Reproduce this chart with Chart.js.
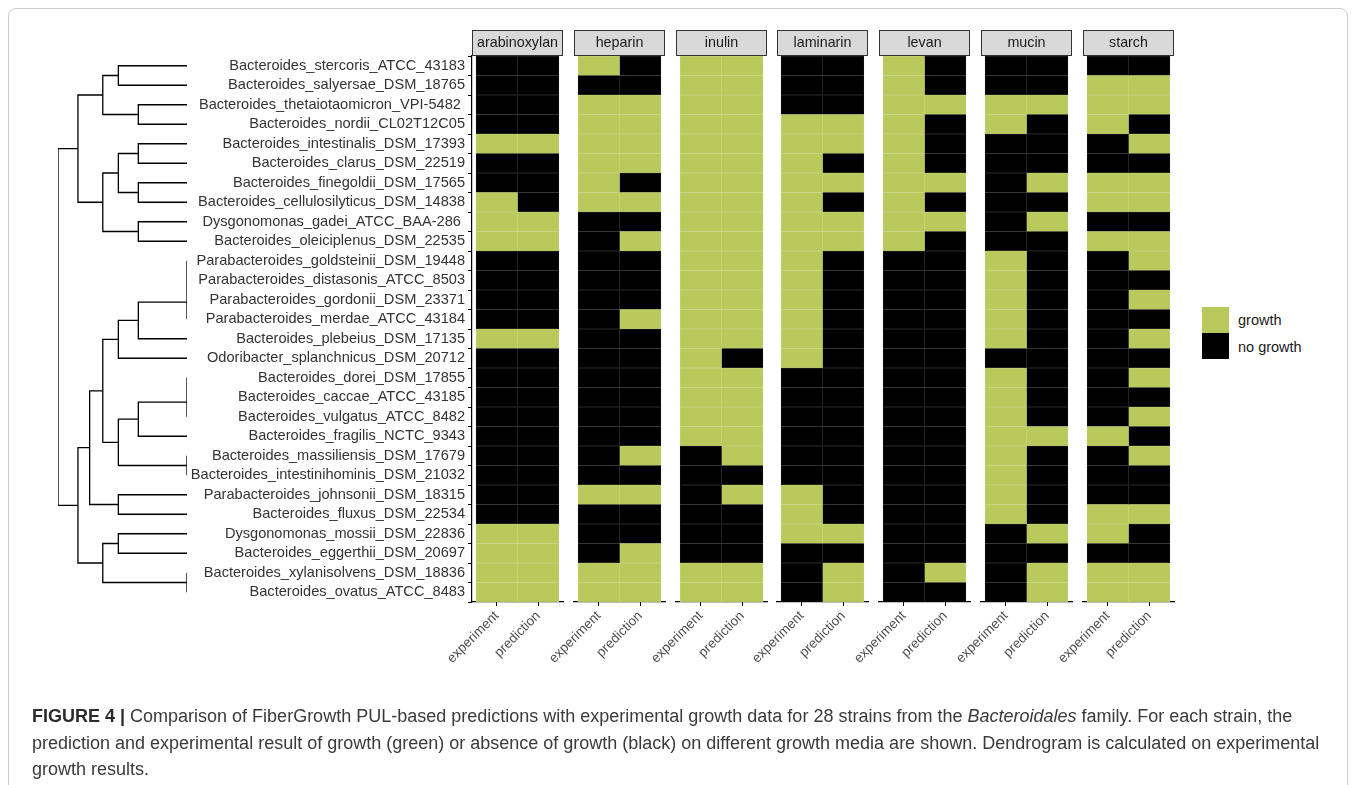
<!DOCTYPE html>
<html>
<head>
<meta charset="utf-8">
<script src="https://cdn.jsdelivr.net/npm/chart.js@4.4.1/dist/chart.umd.min.js"></script>
<style>
  body { margin: 0; background: #fff; font-family: "Liberation Sans", Arial, sans-serif; }
  #fig { position: relative; width: 1357px; height: 785px; overflow: hidden; }
  .frame { position: absolute; left: 8px; top: 8px; width: 1340px; height: 800px; border: 1px solid #cdcdcd; border-radius: 8px; box-sizing: border-box; }
  canvas { position: absolute; }
  .key { position: absolute; left: 1202px; width: 27px; height: 26px; }
  .key-label { position: absolute; left: 1238px; font-size: 14.5px; color: #1a1a1a; line-height: 16px; }
  .caption { position: absolute; left: 32px; top: 703px; font-size: 18px; line-height: 26.5px; color: #3a3a3a; white-space: nowrap; }
  .caption b { color: #2a2a2a; }
</style>
</head>
<body>
<div id="fig">
  <div class="frame"></div>
  <div id="plots"></div>
  <div class="key" style="top:307px;background:#b9c95b"></div>
  <div class="key" style="top:333px;background:#000"></div>
  <div class="key-label" style="top:312px" id="lg0"></div>
  <div class="key-label" style="top:339px" id="lg1"></div>
  <div class="caption">
    <div><b>FIGURE 4 |</b> Comparison of FiberGrowth PUL-based predictions with experimental growth data for 28 strains from the <i>Bacteroidales</i> family. For each strain, the</div>
    <div>prediction and experimental result of growth (green) or absence of growth (black) on different growth media are shown. Dendrogram is calculated on experimental</div>
    <div>growth results.</div>
  </div>
</div>

<script>
// ── strains, in dendrogram order (top → bottom) ──
const strains = [
  'Bacteroides_stercoris_ATCC_43183', 'Bacteroides_salyersae_DSM_18765', 'Bacteroides_thetaiotaomicron_VPI-5482 ',
  'Bacteroides_nordii_CL02T12C05', 'Bacteroides_intestinalis_DSM_17393', 'Bacteroides_clarus_DSM_22519',
  'Bacteroides_finegoldii_DSM_17565', 'Bacteroides_cellulosilyticus_DSM_14838', 'Dysgonomonas_gadei_ATCC_BAA-286 ',
  'Bacteroides_oleiciplenus_DSM_22535', 'Parabacteroides_goldsteinii_DSM_19448', 'Parabacteroides_distasonis_ATCC_8503',
  'Parabacteroides_gordonii_DSM_23371', 'Parabacteroides_merdae_ATCC_43184', 'Bacteroides_plebeius_DSM_17135',
  'Odoribacter_splanchnicus_DSM_20712', 'Bacteroides_dorei_DSM_17855', 'Bacteroides_caccae_ATCC_43185',
  'Bacteroides_vulgatus_ATCC_8482', 'Bacteroides_fragilis_NCTC_9343', 'Bacteroides_massiliensis_DSM_17679',
  'Bacteroides_intestinihominis_DSM_21032', 'Parabacteroides_johnsonii_DSM_18315', 'Bacteroides_fluxus_DSM_22534',
  'Dysgonomonas_mossii_DSM_22836', 'Bacteroides_eggerthii_DSM_20697', 'Bacteroides_xylanisolvens_DSM_18836',
  'Bacteroides_ovatus_ATCC_8483'
];
const media = ['arabinoxylan', 'heparin', 'inulin', 'laminarin', 'levan', 'mucin', 'starch'];
const methods = ['experiment', 'prediction'];
const legendLabels = ['growth', 'no growth'];

// 1 = growth, 0 = no growth (same row order as strains)
const arabinoxylanExp  = [0,0,0,0,1,0,0,1,1,1, 0,0,0,0,1,0,0,0,0,0, 0,0,0,0,1,1,1,1];
const arabinoxylanPred = [0,0,0,0,1,0,0,0,1,1, 0,0,0,0,1,0,0,0,0,0, 0,0,0,0,1,1,1,1];
const heparinExp       = [1,0,1,1,1,1,1,1,0,0, 0,0,0,0,0,0,0,0,0,0, 0,0,1,0,0,0,1,1];
const heparinPred      = [0,0,1,1,1,1,0,1,0,1, 0,0,0,1,0,0,0,0,0,0, 1,0,1,0,0,1,1,1];
const inulinExp        = [1,1,1,1,1,1,1,1,1,1, 1,1,1,1,1,1,1,1,1,1, 0,0,0,0,0,0,1,1];
const inulinPred       = [1,1,1,1,1,1,1,1,1,1, 1,1,1,1,1,0,1,1,1,1, 1,0,1,0,0,0,1,1];
const laminarinExp     = [0,0,0,1,1,1,1,1,1,1, 1,1,1,1,1,1,0,0,0,0, 0,0,1,1,1,0,0,0];
const laminarinPred    = [0,0,0,1,1,0,1,0,1,1, 0,0,0,0,0,0,0,0,0,0, 0,0,0,0,1,0,1,1];
const levanExp         = [1,1,1,1,1,1,1,1,1,1, 0,0,0,0,0,0,0,0,0,0, 0,0,0,0,0,0,0,0];
const levanPred        = [0,0,1,0,0,0,1,0,1,0, 0,0,0,0,0,0,0,0,0,0, 0,0,0,0,0,0,1,0];
const mucinExp         = [0,0,1,1,0,0,0,0,0,0, 1,1,1,1,1,0,1,1,1,1, 1,1,1,1,0,0,0,0];
const mucinPred        = [0,0,1,0,0,0,1,0,1,0, 0,0,0,0,0,0,0,0,0,1, 0,0,0,0,1,0,1,1];
const starchExp        = [0,1,1,1,0,0,1,1,0,1, 0,0,0,0,0,0,0,0,0,1, 0,0,0,1,1,0,1,1];
const starchPred       = [0,1,1,0,1,0,1,1,0,1, 1,0,1,0,1,0,1,0,1,0, 1,0,0,1,0,0,1,1];

// hclust-style merges: negative = leaf (1-based row), positive = earlier merge
const merges = [[-11,-12],[1,-13],[2,-14],[-17,-18],[4,-19],[-21,-22],[-27,-28],
  [-3,-4],[-5,-6],[-7,-8],[-9,-10],[3,-15],[5,-20],
  [-1,-2],[9,10],[12,-16],[13,6],[-23,-24],[-25,-26],
  [14,8],[15,11],[16,17],[19,7],[22,18],[20,21],[24,23],[25,26]];
const mergeHeights = [0,0,0,0,0,0,0, 1,1,1,1,1,1, 1.41,1.41,1.41,1.41,1.41,1.41, 1.73,1.73,1.73,1.73, 2, 2.24,2.24, 2.65];

const growth = {
  arabinoxylan: [arabinoxylanExp, arabinoxylanPred],
  heparin: [heparinExp, heparinPred],
  inulin: [inulinExp, inulinPred],
  laminarin: [laminarinExp, laminarinPred],
  levan: [levanExp, levanPred],
  mucin: [mucinExp, mucinPred],
  starch: [starchExp, starchPred]
};

const GREEN = '#b9c95b', BLACK = '#000000';
const FONT = '"Liberation Sans", Arial, sans-serif';

document.getElementById('lg0').textContent = legendLabels[0];
document.getElementById('lg1').textContent = legendLabels[1];

// panel geometry (page pixels)
const PANEL_TOP = 56, PANEL_H = 546, PANEL_W = 91, FIRST_LEFT = 472, PITCH = 101.8;
const CANVAS_TOP = 24, CANVAS_H = 680;
const plots = document.getElementById('plots');

function addCanvas(left, top, w, h) {
  const c = document.createElement('canvas');
  c.style.left = left + 'px'; c.style.top = top + 'px';
  c.style.width = w + 'px'; c.style.height = h + 'px';
  c.width = w; c.height = h;
  plots.appendChild(c);
  return c;
}

const stripPlugin = {
  id: 'strip',
  afterDraw(chart, args, opts) {
    const { ctx, chartArea: { left, right, top } } = chart;
    ctx.save();
    ctx.fillStyle = '#d9d9d9';
    ctx.fillRect(left, top - 26, right - left, 25);
    ctx.strokeStyle = '#333';
    ctx.lineWidth = 1;
    ctx.strokeRect(left + 0.5, top - 25.5, right - left - 1, 25);
    ctx.fillStyle = '#1a1a1a';
    ctx.font = '14.3px ' + FONT;
    ctx.textAlign = 'center';
    ctx.textBaseline = 'middle';
    ctx.fillText(opts.text, (left + right) / 2, top - 13);
    ctx.restore();
  }
};

// ── heatmap panels ──
media.forEach((m, i) => {
  const first = i === 0;
  const panelLeft = FIRST_LEFT + i * PITCH;
  const padLeft = first ? 0 : 60;
  const yAxisW = first ? 282 : 0;
  const cLeft = panelLeft - padLeft - yAxisW;
  const cW = padLeft + yAxisW + PANEL_W + 12;
  const canvas = addCanvas(cLeft, CANVAS_TOP, cW, CANVAS_H);
  const xAxisH = CANVAS_H - (PANEL_TOP - CANVAS_TOP) - PANEL_H;

  new Chart(canvas, {
    type: 'bar',
    data: {
      labels: strains,
      datasets: methods.map((meth, j) => ({
        label: meth,
        data: growth[m][j].map(() => [j, j + 1]),
        backgroundColor: growth[m][j].map(v => v ? GREEN : BLACK),
        borderColor: growth[m][j].map(v => v ? '#c6d47a' : '#232323'),
        borderWidth: 0.5,
        borderSkipped: false,
        grouped: false,
        barPercentage: 1,
        categoryPercentage: 1
      }))
    },
    options: {
      indexAxis: 'y',
      responsive: false,
      animation: false,
      layout: { padding: { left: padLeft, right: 12, top: PANEL_TOP - CANVAS_TOP, bottom: 0 } },
      plugins: { legend: { display: false }, tooltip: { enabled: false }, strip: { text: m } },
      scales: {
        x: {
          type: 'linear', min: -0.1, max: 2.1,
          afterBuildTicks: s => { s.ticks = [{ value: 0.5 }, { value: 1.5 }]; },
          afterFit: s => { s.height = xAxisH; s.paddingLeft = 0; s.paddingRight = 0; },
          border: { display: true, color: '#000', width: 1.2 },
          grid: { drawOnChartArea: false, drawTicks: true, tickLength: 4, color: '#000', lineWidth: 1 },
          ticks: {
            autoSkip: false, minRotation: 45, maxRotation: 45, padding: 2,
            color: '#4d4d4d', font: { family: FONT, size: 13.5 },
            callback: (v, idx) => methods[idx]
          }
        },
        y: {
          type: 'category', offset: true, display: first,
          afterFit: s => { s.width = yAxisW; s.paddingTop = 0; s.paddingBottom = 0; },
          border: { display: true, color: '#000', width: 1.2 },
          grid: { drawOnChartArea: false, drawTicks: true, tickLength: 4, color: '#000', lineWidth: 1 },
          ticks: { autoSkip: false, padding: 3, color: '#333', font: { family: FONT, size: 14.6 } }
        }
      }
    },
    plugins: [stripPlugin]
  });
});

// ── dendrogram ──
const nodes = [];
const segs = [];
const nodeOf = ref => ref < 0 ? { y: -ref - 1, h: 0 } : nodes[ref - 1];
merges.forEach(([a, b], k) => {
  const A = nodeOf(a), B = nodeOf(b), h = mergeHeights[k];
  segs.push({ x: A.h, y: A.y }, { x: h, y: A.y }, { x: h, y: B.y }, { x: B.h, y: B.y }, { x: NaN, y: NaN });
  nodes.push({ y: (A.y + B.y) / 2, h });
});

const dLeft = 50, dW = 145;
const dendroCanvas = addCanvas(dLeft, CANVAS_TOP, dW, 600);
new Chart(dendroCanvas, {
  type: 'scatter',
  data: { datasets: [{ data: segs, showLine: true, spanGaps: false, pointRadius: 0, borderColor: '#000', borderWidth: 1.3 }] },
  options: {
    responsive: false,
    animation: false,
    layout: { padding: { left: 58 - dLeft, right: dLeft + dW - 187, top: PANEL_TOP - CANVAS_TOP, bottom: 600 - (PANEL_TOP - CANVAS_TOP) - PANEL_H } },
    plugins: { legend: { display: false }, tooltip: { enabled: false } },
    scales: {
      x: { type: 'linear', reverse: true, min: 0, max: Math.max(...mergeHeights), display: false },
      y: { type: 'linear', reverse: true, min: -0.5, max: strains.length - 0.5, display: false }
    }
  }
});
</script>
</body>
</html>
